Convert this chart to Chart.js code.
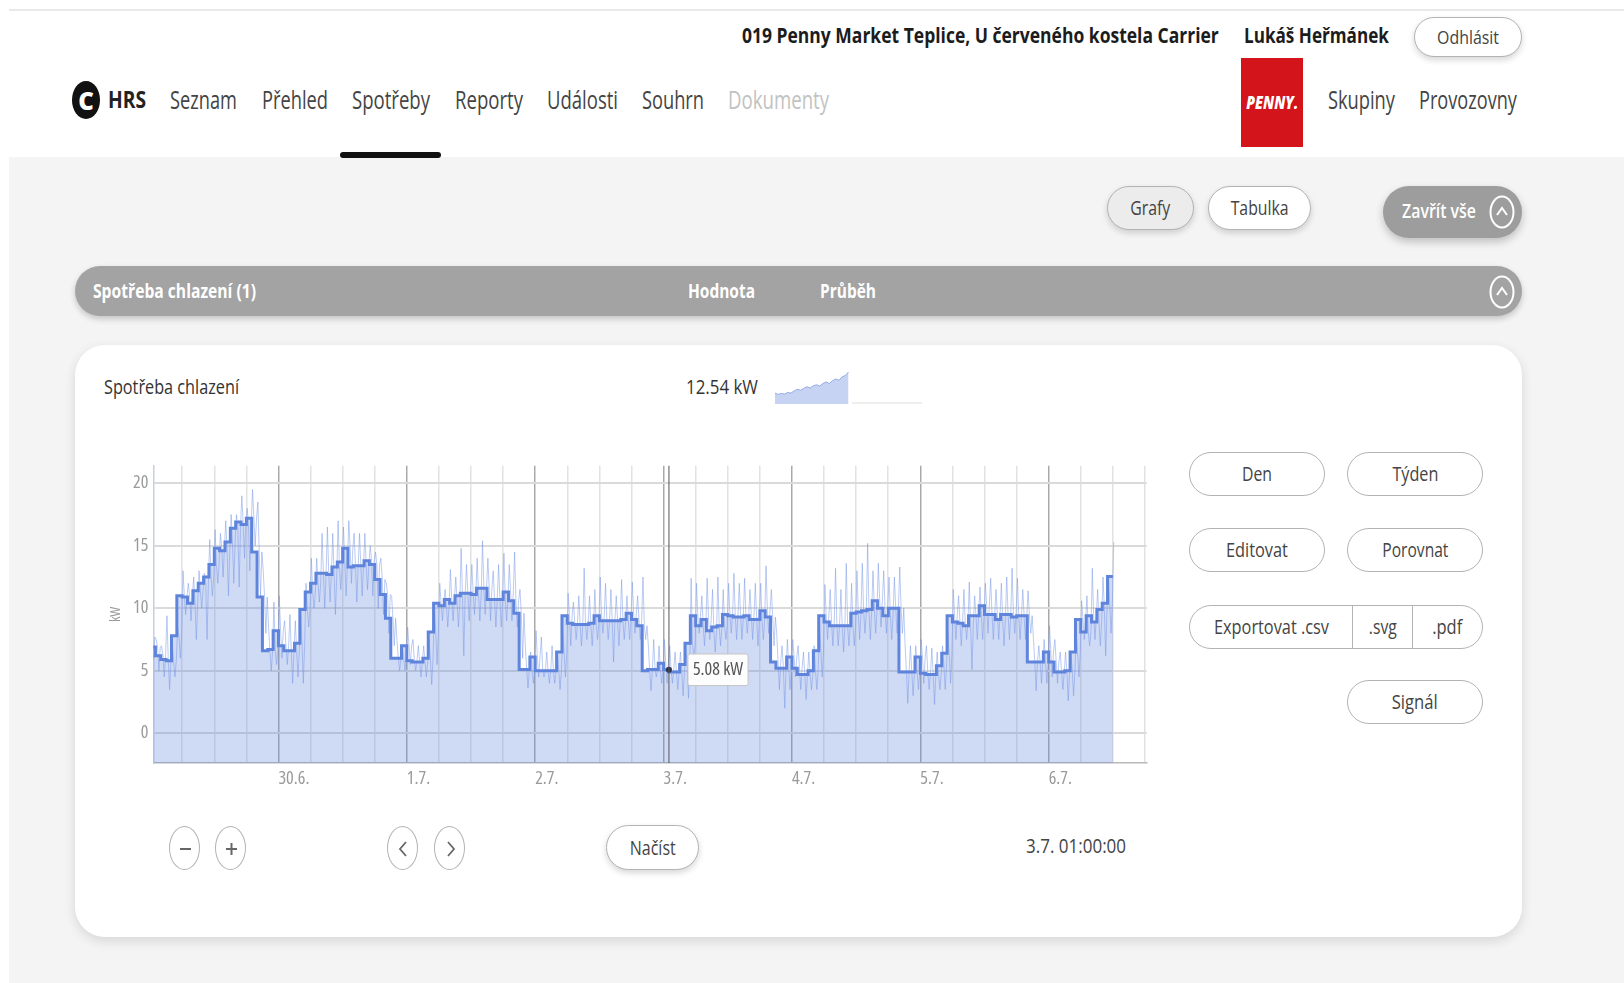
<!DOCTYPE html>
<html lang="cs">
<head>
<meta charset="utf-8">
<title>HRS – Spotřeby</title>
<script src="https://cdn.jsdelivr.net/npm/chart.js@4.4.1/dist/chart.umd.min.js"></script>
<style>
  html, body { margin: 0; padding: 0; }
  body { position: relative; width: 1624px; height: 983px; overflow: hidden; background: #fff; font-family: "Open Sans", sans-serif; color: #444; }
  .bg { position: absolute; left: 9px; right: 0; top: 157px; bottom: 0; background: #f4f4f4; }
  .topline { position: absolute; left: 9px; right: 0; top: 9px; height: 2px; background: #e9e9e9; }
  .t { position: absolute; display: inline-block; white-space: nowrap; line-height: 1; transform-origin: left center; }
  .pill { position: absolute; box-sizing: border-box; display: flex; align-items: center; justify-content: center; border: 1.5px solid #b3b3b3; border-radius: 999px; background: #fff; font-size: 20px; color: #444; }
  .pill span, .seg span, .oval span { display: inline-block; white-space: nowrap; line-height: 1; }
  .oval { position: absolute; box-sizing: border-box; width: 31px; height: 44px; top: 826px; border: 1.5px solid #b3b3b3; border-radius: 50%; background: #fff; }
  .oval svg { position: absolute; left: 0; top: 0; }
  .shadow { box-shadow: 0 3px 6px rgba(0,0,0,0.16); }
  .card { position: absolute; left: 75px; top: 345px; width: 1447px; height: 592px; background: #fff; border-radius: 30px; box-shadow: 0 4px 12px rgba(0,0,0,0.12); }
  .bar { position: absolute; left: 75px; top: 266px; width: 1447px; height: 50px; background: #a3a3a3; border-radius: 25px; box-shadow: 0 3px 6px rgba(0,0,0,0.2); }
  .export { position: absolute; left: 1189px; top: 605px; width: 294px; height: 44px; box-sizing: border-box; border: 1.5px solid #b3b3b3; border-radius: 22px; display: flex; background: #fff; font-size: 20px; color: #444; overflow: hidden; }
  .seg { display: flex; align-items: center; justify-content: center; height: 100%; box-sizing: border-box; }
  .icon { position: absolute; }
</style>
</head>
<body>
<div class="topline"></div>
<div class="bg"></div>

<!-- horní lišta -->
<div style="position:absolute;left:72px;top:81px;width:28px;height:38px;border-radius:50%;background:#111;display:flex;align-items:center;justify-content:center;color:#fff;font-weight:800;font-size:24px">C</div>
<span class="t" data-w="38" style="left:108px;top:87px;font-size:24px;font-weight:700;color:#222">HRS</span>
<span class="t" data-w="67" style="left:170px;top:87px;font-size:25px">Seznam</span>
<span class="t" data-w="66" style="left:262px;top:87px;font-size:25px">Přehled</span>
<span class="t" data-w="78" style="left:352px;top:87px;font-size:25px">Spotřeby</span>
<span class="t" data-w="68" style="left:455px;top:87px;font-size:25px">Reporty</span>
<span class="t" data-w="71" style="left:547px;top:87px;font-size:25px">Události</span>
<span class="t" data-w="62" style="left:642px;top:87px;font-size:25px">Souhrn</span>
<span class="t" data-w="101" style="left:728px;top:87px;font-size:25px;color:#c2c2c2">Dokumenty</span>
<div style="position:absolute;left:340px;top:152px;width:101px;height:6px;border-radius:3px;background:#111"></div>

<span class="t" data-w="477" style="left:742px;top:25px;font-size:21px;font-weight:700;color:#1c1c1c">019 Penny Market Teplice, U červeného kostela Carrier</span>
<span class="t" data-w="145" style="left:1244px;top:25px;font-size:21px;font-weight:700;color:#1c1c1c">Lukáš Heřmánek</span>
<div class="pill shadow" style="left:1414px;top:17px;width:108px;height:40px;font-size:19px"><span data-w="62">Odhlásit</span></div>

<div style="position:absolute;left:1241px;top:58px;width:62px;height:89px;background:#d3141b;display:flex;align-items:center;justify-content:center">
  <span data-w="52" style="display:inline-block;color:#fff;font-weight:800;font-style:italic;font-size:17px;line-height:1">PENNY.</span>
</div>
<span class="t" data-w="67" style="left:1328px;top:87px;font-size:25px">Skupiny</span>
<span class="t" data-w="98" style="left:1419px;top:87px;font-size:25px">Provozovny</span>

<!-- přepínače -->
<div class="pill shadow" style="left:1107px;top:186px;width:87px;height:44px;background:#ececec"><span data-w="40">Grafy</span></div>
<div class="pill shadow" style="left:1208px;top:186px;width:103px;height:44px"><span data-w="58">Tabulka</span></div>
<div class="pill" style="left:1383px;top:186px;width:139px;height:52px;background:#9d9d9d;border:none;box-shadow:0 4px 8px rgba(0,0,0,0.22)"></div>
<span class="t" data-w="74" style="left:1402px;top:202px;font-size:19px;font-weight:600;color:#fff">Zavřít vše</span>
<svg class="icon" style="left:1489px;top:195px" width="26" height="34" viewBox="0 0 26 34">
  <ellipse cx="13" cy="17" rx="11.5" ry="15.5" fill="none" stroke="#fff" stroke-width="2"/>
  <polyline points="8,20 13,13 18,20" fill="none" stroke="#fff" stroke-width="2"/>
</svg>

<div class="bar"></div>
<span class="t" data-w="163" style="left:93px;top:282px;font-size:19px;font-weight:700;color:#fff">Spotřeba chlazení (1)</span>
<span class="t" data-w="67" style="left:688px;top:282px;font-size:19px;font-weight:700;color:#fff">Hodnota</span>
<span class="t" data-w="56" style="left:820px;top:282px;font-size:19px;font-weight:700;color:#fff">Průběh</span>
<svg class="icon" style="left:1489px;top:275px" width="26" height="34" viewBox="0 0 26 34">
  <ellipse cx="13" cy="17" rx="11.5" ry="15.5" fill="none" stroke="#fff" stroke-width="2"/>
  <polyline points="8,20 13,13 18,20" fill="none" stroke="#fff" stroke-width="2"/>
</svg>

<!-- karta grafu -->
<div class="card"></div>
<span class="t" data-w="135" style="left:104px;top:377px;font-size:20px;color:#333">Spotřeba chlazení</span>
<span class="t" data-w="72" style="left:686px;top:377px;font-size:20px;color:#333">12.54 kW</span>
<canvas id="spark" width="147" height="32" style="position:absolute;left:775px;top:372px"></canvas>
<div style="position:absolute;left:852px;top:402px;width:70px;height:2px;background:#efefef"></div>

<div style="position:absolute;left:100px;top:450px;width:1050px;height:345px">
  <canvas id="trend" width="1050" height="345"></canvas>
</div>

<div class="pill" style="left:1189px;top:452px;width:136px;height:44px"><span data-w="30">Den</span></div>
<div class="pill" style="left:1347px;top:452px;width:136px;height:44px"><span data-w="46">Týden</span></div>
<div class="pill" style="left:1189px;top:528px;width:136px;height:44px"><span data-w="62">Editovat</span></div>
<div class="pill" style="left:1347px;top:528px;width:136px;height:44px"><span data-w="66">Porovnat</span></div>
<div class="export">
  <div class="seg" style="width:163px;border-right:1.5px solid #b3b3b3"><span data-w="115">Exportovat .csv</span></div>
  <div class="seg" style="width:60px;border-right:1.5px solid #b3b3b3"><span data-w="28">.svg</span></div>
  <div class="seg" style="flex:1"><span data-w="30">.pdf</span></div>
</div>
<div class="pill" style="left:1347px;top:680px;width:136px;height:44px"><span data-w="46">Signál</span></div>

<div class="oval" style="left:169px"><svg width="31" height="44"><line x1="10" y1="22" x2="21" y2="22" stroke="#666" stroke-width="2"/></svg></div>
<div class="oval" style="left:215px"><svg width="31" height="44"><line x1="10" y1="22" x2="21" y2="22" stroke="#666" stroke-width="2"/><line x1="15.5" y1="16" x2="15.5" y2="28" stroke="#666" stroke-width="2"/></svg></div>
<div class="oval" style="left:387px"><svg width="31" height="44"><polyline points="18,15 12,22 18,29" fill="none" stroke="#666" stroke-width="1.8"/></svg></div>
<div class="oval" style="left:434px"><svg width="31" height="44"><polyline points="13,15 19,22 13,29" fill="none" stroke="#666" stroke-width="1.8"/></svg></div>
<div class="pill shadow" style="left:606px;top:825px;width:93px;height:45px"><span data-w="46">Načíst</span></div>
<span class="t" data-w="100" style="left:1026px;top:836px;font-size:20px;color:#444">3.7. 01:00:00</span>

<script>
// hodinové průměry od 29.6. 00:00 (index = hodina)
const avgKw = [
  7.7, 6.9, 6.2, 5.9, 5.8, 7.8, 11.0, 10.9, 10.4, 11.4, 12.0, 12.5, 13.5, 14.8, 14.6, 15.3, 16.4, 16.9, 16.7, 17.2, 14.5, 10.9, 6.6, 6.7,
  8.2, 7.0, 6.6, 6.6, 7.2, 9.9, 11.3, 12.0, 12.8, 12.8, 12.7, 13.3, 13.7, 14.8, 13.3, 13.4, 13.4, 13.8, 13.5, 12.3, 11.1, 9.2, 6.0, 6.0,
  7.0, 5.8, 5.7, 5.7, 6.0, 8.1, 10.4, 10.2, 10.7, 10.4, 11.0, 11.2, 11.2, 11.1, 11.6, 11.6, 10.7, 10.7, 10.7, 11.3, 10.6, 9.6, 5.1, 5.1,
  6.1, 5.0, 5.0, 5.0, 5.0, 6.5, 9.4, 8.8, 8.7, 8.7, 8.7, 8.8, 9.4, 9.0, 9.0, 9.0, 9.0, 9.1, 9.6, 9.1, 8.6, 5.0, 5.1, 5.1,
  5.6, 5.08, 4.9, 4.9, 5.5, 7.2, 9.4, 8.6, 9.1, 8.2, 8.5, 8.6, 9.5, 9.4, 9.3, 9.3, 9.4, 9.1, 9.1, 9.8, 9.3, 5.7, 5.2, 5.2,
  6.1, 5.2, 4.7, 4.7, 5.0, 6.6, 9.4, 8.9, 8.6, 8.6, 8.6, 8.6, 9.6, 9.7, 9.8, 9.9, 10.6, 10.0, 9.4, 10.0, 10.0, 4.9, 4.9, 4.9,
  6.1, 4.8, 4.7, 4.7, 5.4, 6.4, 9.4, 8.9, 8.8, 8.6, 9.4, 9.4, 10.2, 9.5, 9.5, 9.1, 9.5, 9.5, 9.3, 9.4, 9.4, 5.7, 5.7, 5.7,
  6.5, 5.7, 4.9, 4.9, 5.0, 6.5, 9.1, 8.1, 9.4, 8.9, 9.9, 10.4, 12.54
];
// nejvyšší a nejnižší okamžité hodnoty v každé hodině
const peakKw = [
  8.0, 7.5, 7.0, 9.4, 7.0, 8.5, 13.0, 12.0, 12.5, 13.0, 12.8, 15.5, 16.3, 16.0, 17.0, 17.5, 17.5, 19.0, 18.0, 19.5, 18.5, 13.0, 8.5, 10.5,
  11.0, 9.0, 9.5, 9.0, 9.5, 12.0, 14.0, 14.0, 16.0, 16.5, 16.0, 17.0, 16.5, 17.0, 16.0, 16.0, 16.0, 15.0, 14.5, 14.0, 12.0, 11.0, 7.5, 7.0,
  8.5, 7.5, 7.0, 7.0, 7.5, 10.0, 12.0, 11.5, 13.1, 12.5, 14.8, 13.5, 13.5, 14.0, 15.4, 14.0, 13.0, 13.5, 14.4, 13.5, 14.5, 11.5, 7.0, 6.5,
  8.2, 7.7, 6.5, 7.0, 6.5, 8.0, 11.2, 10.5, 11.0, 13.2, 11.0, 11.5, 12.5, 12.0, 11.5, 11.0, 12.3, 11.0, 12.1, 11.0, 12.5, 7.0, 7.5, 7.0,
  7.5, 7.0, 6.5, 6.5, 7.0, 12.4, 12.0, 11.0, 12.4, 11.5, 12.5, 11.5, 12.0, 12.8, 12.0, 12.4, 11.5, 12.0, 12.0, 13.4, 11.5, 8.0, 7.0, 7.5,
  7.5, 7.0, 6.5, 6.5, 7.0, 8.5, 11.9, 11.5, 13.2, 11.5, 13.6, 12.0, 13.0, 13.6, 15.2, 13.0, 13.6, 13.0, 12.5, 12.5, 13.3, 7.0, 7.0, 7.0,
  7.5, 7.0, 6.8, 6.5, 7.0, 8.0, 11.5, 11.0, 11.5, 12.1, 11.0, 11.7, 12.0, 12.4, 11.5, 12.0, 12.5, 13.2, 12.4, 11.5, 11.4, 7.5, 7.0, 7.5,
  8.6, 7.5, 6.5, 6.5, 6.5, 8.0, 10.6, 11.0, 13.2, 11.5, 12.5, 12.5, 15.3
];
const lowKw = [
  6.0, 5.0, 4.5, 3.5, 4.5, 6.0, 9.5, 9.0, 7.5, 10.0, 7.5, 11.0, 12.0, 12.5, 11.0, 12.0, 11.7, 14.0, 13.0, 15.0, 11.0, 8.0, 5.0, 5.5,
  6.0, 5.5, 4.0, 4.5, 4.0, 8.5, 10.0, 10.5, 10.0, 10.5, 9.5, 11.5, 11.0, 12.0, 10.5, 11.0, 11.5, 11.0, 10.0, 9.5, 8.0, 7.0, 5.0, 5.0,
  5.5, 5.0, 4.5, 4.5, 3.9, 5.5, 9.0, 8.5, 9.0, 8.5, 6.2, 9.0, 9.5, 9.0, 9.5, 9.0, 8.5, 8.5, 9.0, 9.0, 8.5, 6.0, 3.6, 4.0,
  4.5, 4.5, 4.0, 4.0, 3.5, 4.5, 7.0, 7.5, 7.0, 7.5, 7.0, 7.5, 8.0, 7.5, 5.7, 7.0, 7.5, 7.5, 8.0, 7.5, 7.5, 3.4, 4.5, 4.0,
  4.0, 4.0, 3.5, 3.0, 2.8, 6.0, 8.0, 7.0, 7.5, 6.5, 7.0, 7.5, 8.0, 7.5, 7.5, 8.0, 7.5, 7.0, 7.5, 8.0, 7.0, 3.5, 2.0, 3.5,
  4.5, 3.5, 2.7, 3.5, 3.5, 4.5, 7.5, 7.0, 7.0, 6.5, 7.0, 7.0, 7.5, 8.0, 7.5, 8.0, 8.5, 8.0, 7.5, 8.0, 8.0, 2.4, 3.0, 3.5,
  4.0, 3.5, 2.3, 3.5, 3.5, 4.0, 7.5, 7.0, 7.5, 5.1, 7.5, 7.5, 8.0, 7.5, 7.5, 7.0, 7.5, 8.0, 7.5, 7.5, 8.0, 3.4, 4.0, 4.0,
  4.5, 4.0, 3.5, 2.6, 3.0, 4.5, 7.5, 7.0, 7.5, 7.0, 6.2, 8.0, 10.0
];
const dayLabels = ['30.6.', '1.7.', '2.7.', '3.7.', '4.7.', '5.7.', '6.7.'];
const yTickValues = [0, 5, 10, 15, 20];
const sparkKw = [3.4, 3.0, 3.3, 3.1, 3.6, 3.4, 4.1, 4.6, 4.3, 4.9, 5.4, 5.0, 5.7, 6.0, 5.6, 6.4, 6.9, 6.4, 7.3, 7.8, 7.4, 8.5, 8.9, 10.0];
const cursorHour = 97; // 3.7. 01:00

// text zúžit na šířku z předlohy
document.querySelectorAll('[data-w]').forEach(el => {
  const w = el.getBoundingClientRect().width;
  el.style.transform = `scaleX(${(el.dataset.w / w).toFixed(3)})`;
});

const avgPoints = avgKw.map((v, h) => ({ x: h, y: v }));
const rawPoints = [];
avgKw.forEach((v, h) => {
  rawPoints.push({ x: h + 0.15, y: peakKw[h] });
  if (h === avgKw.length - 1) return;
  rawPoints.push({ x: h + 0.4, y: v });
  rawPoints.push({ x: h + 0.65, y: lowKw[h] });
  rawPoints.push({ x: h + 0.9, y: v });
});

const gridHours = [];
for (let h = 6; h <= 186; h += 6) gridHours.push(h);

const tickFont = { family: "'Open Sans', sans-serif", size: 18, weight: 'normal condensed' };

const crosshair = {
  id: 'crosshair',
  afterDatasetsDraw(chart) {
    const { ctx, chartArea } = chart;
    const x = chart.scales.x.getPixelForValue(cursorHour);
    ctx.save();
    ctx.strokeStyle = '#555';
    ctx.lineWidth = 1;
    ctx.beginPath();
    ctx.moveTo(x, chartArea.top);
    ctx.lineTo(x, chartArea.bottom);
    ctx.stroke();
    ctx.restore();
  }
};

const chart = new Chart(document.getElementById('trend'), {
  type: 'line',
  data: {
    datasets: [{
      label: 'Průměr',
      data: avgPoints,
      stepped: 'after',
      borderColor: '#5f84dc',
      borderWidth: 3,
      fill: 'start',
      backgroundColor: 'rgba(96, 134, 222, 0.3)',
      pointRadius: 0,
      pointHoverRadius: 3,
      pointHoverBackgroundColor: '#2d3550',
      pointHoverBorderWidth: 0,
      order: 0
    }, {
      label: 'Signál',
      data: rawPoints,
      borderColor: 'rgba(120, 152, 232, 0.5)',
      borderWidth: 1,
      pointRadius: 0,
      fill: false,
      order: 1
    }]
  },
  options: {
    responsive: false,
    animation: false,
    events: [],
    layout: { padding: { top: 10, right: 0, left: 0, bottom: 0 } },
    scales: {
      x: {
        type: 'linear',
        min: 0.6,
        max: 186.3,
        afterBuildTicks: axis => { axis.ticks = gridHours.map(v => ({ value: v })); },
        afterFit: scale => { scale.height = 32; },
        grid: {
          color: c => (c.tick && c.tick.value % 24 === 0) ? '#a9a9a9' : '#e2e2e2',
          lineWidth: 1.5,
          drawTicks: false
        },
        border: { color: '#b8b8b8', width: 1.5 },
        ticks: {
          autoSkip: false,
          maxRotation: 0,
          align: 'start',
          padding: 5,
          color: '#9a9a9a',
          font: tickFont,
          callback: v => (v % 24 === 0 ? dayLabels[v / 24 - 1] || '' : '')
        }
      },
      y: {
        min: -2.38,
        max: 21.4,
        afterBuildTicks: axis => { axis.ticks = yTickValues.map(v => ({ value: v })); },
        afterFit: scale => { scale.width = 53.3; },
        grid: { color: '#dadada', lineWidth: 2, drawTicks: false },
        border: { color: '#c6cee2', width: 1.5 },
        ticks: { padding: 5, color: '#9a9a9a', font: tickFont },
        title: {
          display: true,
          text: 'kW',
          color: '#9a9a9a',
          font: { family: "'Open Sans', sans-serif", size: 14, weight: 'normal condensed' },
          padding: { top: 8, bottom: 0 }
        }
      }
    },
    plugins: {
      legend: { display: false },
      filler: { drawTime: 'beforeDatasetsDraw' },
      tooltip: {
        displayColors: false,
        backgroundColor: 'rgba(255, 255, 255, 0.96)',
        borderColor: '#c4c4c4',
        borderWidth: 1,
        bodyColor: '#555',
        bodyFont: { family: "'Open Sans', sans-serif", size: 18, weight: 'normal condensed' },
        padding: { x: 5, y: 5 },
        cornerRadius: 2,
        caretSize: 0,
        caretPadding: 19,
        xAlign: 'left',
        yAlign: 'center',
        callbacks: {
          title: () => [],
          label: c => c.parsed.y.toFixed(2) + ' kW'
        }
      }
    }
  },
  plugins: [crosshair]
});

const active = [{ datasetIndex: 0, index: cursorHour }];
const el = chart.getDatasetMeta(0).data[cursorHour];
chart.setActiveElements(active);
chart.tooltip.setActiveElements(active, { x: el.x, y: el.y });
chart.update();

new Chart(document.getElementById('spark'), {
  type: 'line',
  data: {
    datasets: [{
      data: sparkKw.map((v, i) => ({ x: i, y: v })),
      borderColor: '#93aae6',
      borderWidth: 1,
      backgroundColor: '#c7d3f3',
      fill: 'start',
      pointRadius: 0
    }]
  },
  options: {
    responsive: false,
    animation: false,
    events: [],
    layout: { padding: 0 },
    scales: {
      x: { type: 'linear', display: false, min: 0, max: 46 },
      y: { display: false, min: 0, max: 10 }
    },
    plugins: { legend: { display: false }, tooltip: { enabled: false } }
  }
});
</script>
</body>
</html>
